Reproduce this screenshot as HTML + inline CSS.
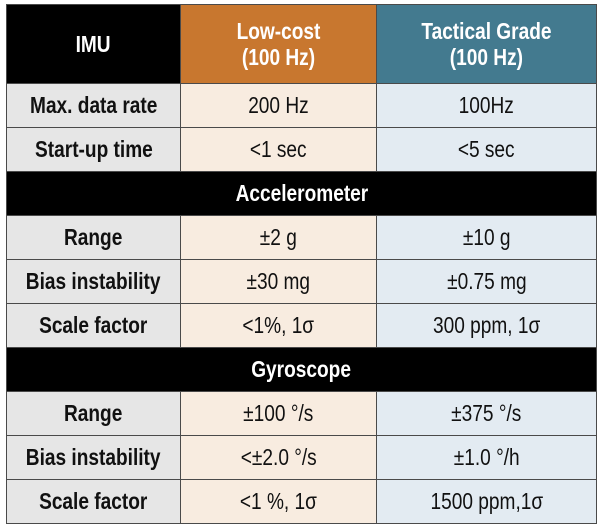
<!DOCTYPE html>
<html><head><style>
html,body{margin:0;padding:0;background:#fff;width:600px;height:526px;overflow:hidden}
.t{position:absolute;left:6px;top:4px;width:590px;border-collapse:collapse;table-layout:fixed;font-family:"Liberation Sans",sans-serif}
.t td{border:1.5px solid #4a4a4a;text-align:center;padding:0;height:43px;font-size:23px;color:#111;overflow:hidden;white-space:nowrap}
.t td span{display:inline-block;transform:scaleX(0.83)}
.l{background:#e6e6e6;font-weight:bold}
.o{background:#f8ece0}
.b{background:#e3ebf2}
.h td{height:78px;color:#fff;font-weight:bold;line-height:26px}
.s td{background:#000;color:#fff;font-weight:bold}
</style></head><body>
<table class="t">
<colgroup><col style="width:174px"><col style="width:196px"><col style="width:220px"></colgroup>
<tr class="h"><td style="background:#000"><span>IMU</span></td><td style="background:#c8772f"><span>Low-cost<br>(100 Hz)</span></td><td style="background:#437a8f"><span>Tactical Grade<br>(100 Hz)</span></td></tr>
<tr><td class="l"><span>Max. data rate</span></td><td class="o"><span>200 Hz</span></td><td class="b"><span>100Hz</span></td></tr>
<tr><td class="l"><span>Start-up time</span></td><td class="o"><span>&lt;1 sec</span></td><td class="b"><span>&lt;5 sec</span></td></tr>
<tr class="s"><td colspan="3"><span>Accelerometer</span></td></tr>
<tr><td class="l"><span>Range</span></td><td class="o"><span>±2 g</span></td><td class="b"><span>±10 g</span></td></tr>
<tr><td class="l"><span>Bias instability</span></td><td class="o"><span>±30 mg</span></td><td class="b"><span>±0.75 mg</span></td></tr>
<tr><td class="l"><span>Scale factor</span></td><td class="o"><span>&lt;1%, 1σ</span></td><td class="b"><span>300 ppm, 1σ</span></td></tr>
<tr class="s"><td colspan="3"><span>Gyroscope</span></td></tr>
<tr><td class="l"><span>Range</span></td><td class="o"><span>±100 °/s</span></td><td class="b"><span>±375 °/s</span></td></tr>
<tr><td class="l"><span>Bias instability</span></td><td class="o"><span>&lt;±2.0 °/s</span></td><td class="b"><span>±1.0 °/h</span></td></tr>
<tr><td class="l"><span>Scale factor</span></td><td class="o"><span>&lt;1 %, 1σ</span></td><td class="b"><span>1500 ppm,1σ</span></td></tr>
</table>
</body></html>
